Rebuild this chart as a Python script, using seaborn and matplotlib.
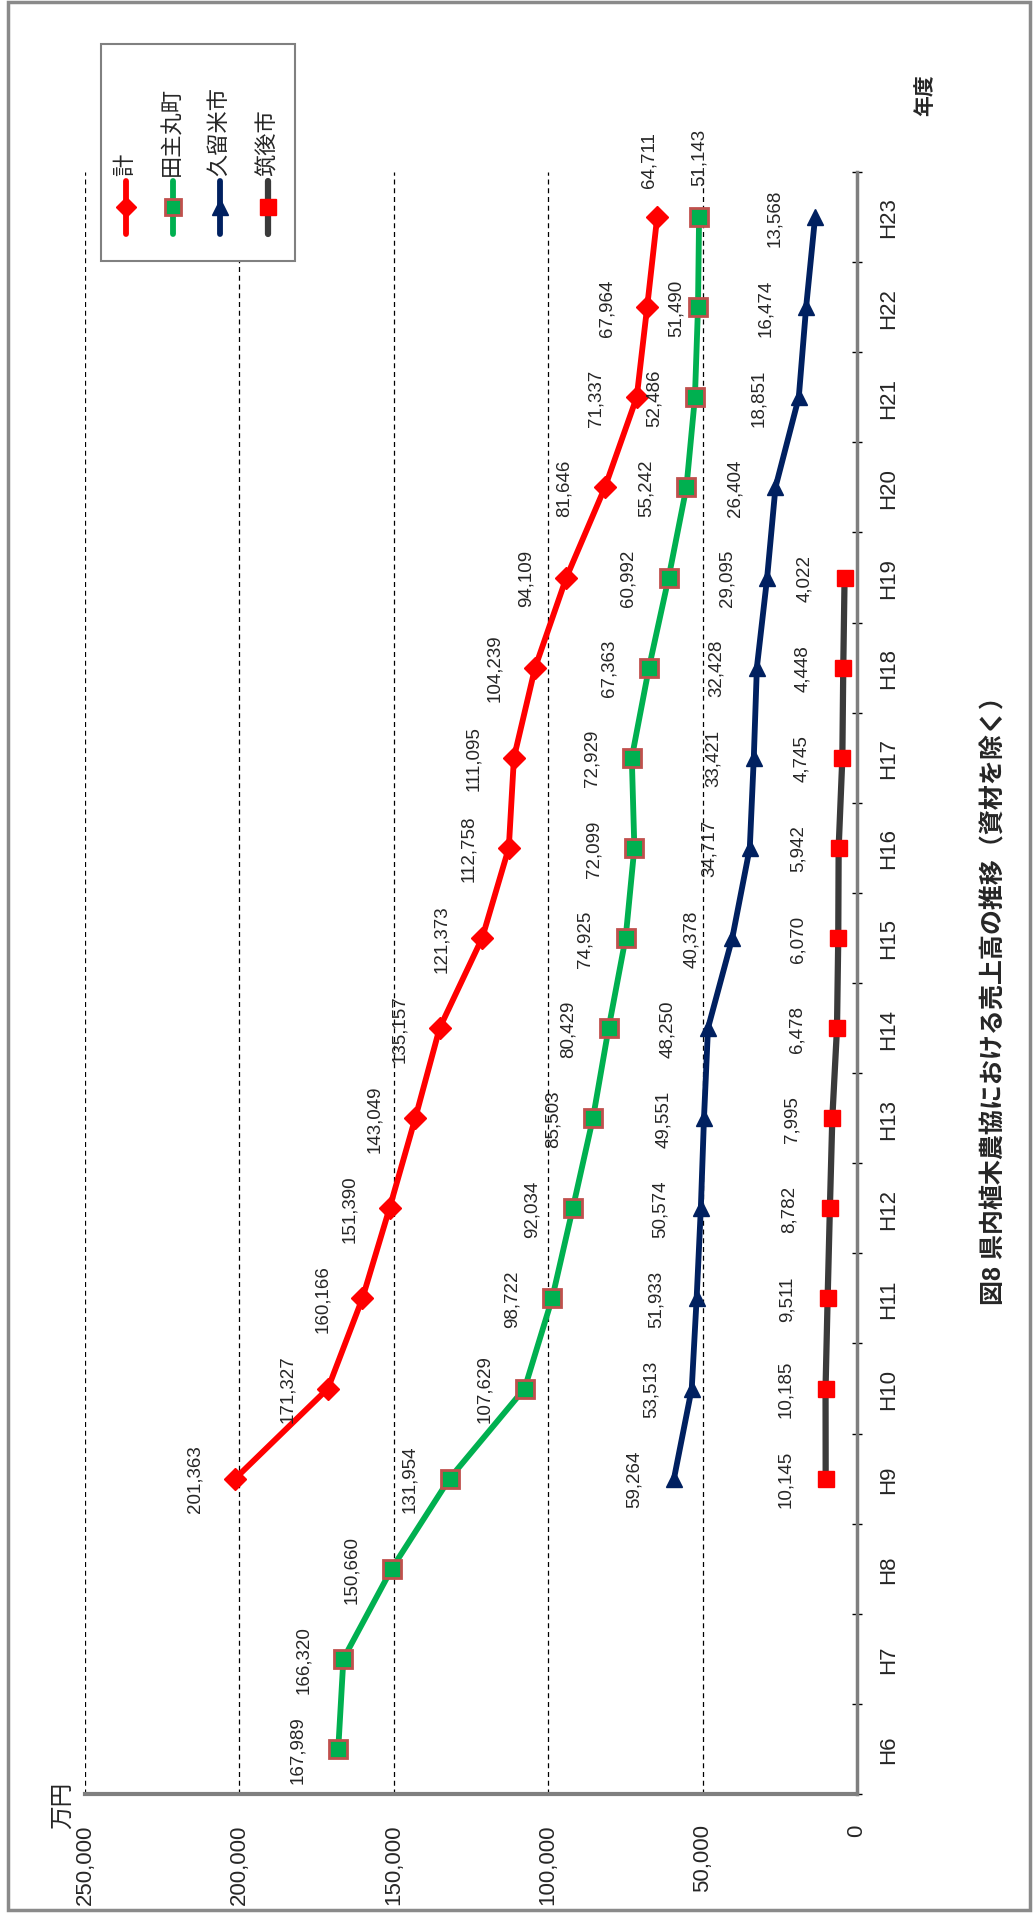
import matplotlib
matplotlib.use("Agg")
import matplotlib.pyplot as plt
import matplotlib.patches as mpatches
from matplotlib.lines import Line2D
import numpy as np
import pandas as pd
import seaborn as sns

nan = np.nan

years = ["H6", "H7", "H8", "H9", "H10", "H11", "H12", "H13", "H14",
         "H15", "H16", "H17", "H18", "H19", "H20", "H21", "H22", "H23"]

total = [nan, nan, nan, 201363, 171327, 160166, 151390, 143049, 135157,
         121373, 112758, 111095, 104239, 94109, 81646, 71337, 67964, 64711]
tanushimaru = [167989, 166320, 150660, 131954, 107629, 98722, 92034, 85503, 80429,
               74925, 72099, 72929, 67363, 60992, 55242, 52486, 51490, 51143]
kurume = [nan, nan, nan, 59264, 53513, 51933, 50574, 49551, 48250,
          40378, 34717, 33421, 32428, 29095, 26404, 18851, 16474, 13568]
chikugo = [nan, nan, nan, 10145, 10185, 9511, 8782, 7995, 6478,
           6070, 5942, 4745, 4448, 4022, nan, nan, nan, nan]

series_names = ["計", "田主丸町", "久留米市", "筑後市"]
value_ticks = [0, 50000, 100000, 150000, 200000, 250000]

# long-form table, one row per (series, year)
rows = []
for name, vals in zip(series_names, [total, tanushimaru, kurume, chikugo]):
    for i, v in enumerate(vals):
        rows.append({"series": name, "year": years[i], "pos": i, "value": v})
df = pd.DataFrame(rows).dropna()

styles = {
    "計": dict(color="#ff0000", marker="D", markersize=11, markerfacecolor="#ff0000",
              markeredgecolor="#ff0000", markeredgewidth=1, linewidth=4.2),
    "田主丸町": dict(color="#00b050", marker="s", markersize=13, markerfacecolor="#00b050",
                 markeredgecolor="#c0504d", markeredgewidth=2, linewidth=4.2),
    "久留米市": dict(color="#002060", marker="^", markersize=12, markerfacecolor="#002060",
                 markeredgecolor="#002060", markeredgewidth=1, linewidth=4.2),
    "筑後市": dict(color="#3a3a3a", marker="s", markersize=12, markerfacecolor="#ff0000",
                markeredgecolor="#ff0000", markeredgewidth=1, linewidth=4.5),
}

# hand-moved data labels (offset in points)
label_nudge = {
    ("計", "H23"): (-6, 42),
    ("田主丸町", "H23"): (0, 44),
    ("田主丸町", "H22"): (-16, 0),
}

sns.set_style("white")
plt.rcParams["font.family"] = ["Liberation Sans", "Noto Sans CJK JP", "DejaVu Sans"]

W, H = 1034, 1915
fig = plt.figure(figsize=(W / 100, H / 100), dpi=100)
ax = fig.add_axes([85 / W, 120 / H, 772 / W, 1622 / H])

for name in series_names:
    sub = df[df["series"] == name]
    sns.lineplot(data=sub, x="value", y="pos", orient="y", sort=False,
                 estimator=None, legend=False, ax=ax, **styles[name])
    for _, r in sub.iterrows():
        off = label_nudge.get((name, r["year"]), (-29, 0))
        ax.annotate(f"{int(r['value']):,}", (r["value"], r["pos"]),
                    xytext=off, textcoords="offset points",
                    rotation=90, ha="center", va="center", fontsize=13.5)

ax.set_xlim(250000, 0)
ax.set_ylim(-0.5, len(years) - 0.5)
ax.set_xlabel("")
ax.set_ylabel("")

ax.set_xticks(value_ticks)
ax.set_xticklabels([f"{t:,}" for t in value_ticks], rotation=90, fontsize=16)
ax.tick_params(axis="x", direction="inout", length=8, width=1.2, color="black", pad=17)

ax.yaxis.tick_right()
ax.set_yticks(range(len(years)))
ax.set_yticklabels(years, rotation=90, va="center", fontsize=16)
ax.set_yticks(np.arange(-0.5, len(years), 1), minor=True)
ax.tick_params(axis="y", which="major", length=0, pad=15)
ax.tick_params(axis="y", which="minor", direction="inout", length=7, width=1,
               color="black", right=True, left=False)

ax.set_axisbelow(True)
ax.xaxis.grid(True, linestyle=(0, (4, 3)), color="black", linewidth=0.9)
ax.yaxis.grid(False)
for side in ["top", "left"]:
    ax.spines[side].set_visible(False)
ax.spines["bottom"].set_color("#7f7f7f")
ax.spines["bottom"].set_linewidth(3)
ax.spines["right"].set_color("#7f7f7f")
ax.spines["right"].set_linewidth(2.5)

# unit and axis titles
fig.text(63 / W, 1 - 1805 / H, "万円", rotation=90, ha="center", va="center", fontsize=17)
fig.text(925 / W, 1 - 95 / H, "年度", rotation=90, ha="center", va="center",
         fontsize=15, fontweight="bold")
fig.text(994 / W, 1 - 995 / H, "図8 県内植木農協における売上高の推移（資材を除く）",
         rotation=90, ha="center", va="center", fontsize=18, fontweight="bold")

# legend drawn sideways to match the rotated layout
fig.add_artist(mpatches.Rectangle((101 / W, 1 - 262 / H), 194 / W, 217 / H,
                                  transform=fig.transFigure, facecolor="white",
                                  edgecolor="#808080", linewidth=1.5, zorder=5))
for name, xpix in zip(series_names, [126, 173, 220, 268]):
    st = styles[name]
    fig.add_artist(Line2D([xpix / W, xpix / W], [1 - 235 / H, 1 - 182 / H],
                          transform=fig.transFigure, color=st["color"],
                          linewidth=st["linewidth"], zorder=6))
    fig.add_artist(Line2D([xpix / W], [1 - 208 / H], transform=fig.transFigure,
                          linestyle="none", marker=st["marker"],
                          markersize=st["markersize"] - 1,
                          markerfacecolor=st["markerfacecolor"],
                          markeredgecolor=st["markeredgecolor"],
                          markeredgewidth=st["markeredgewidth"], zorder=7))
    fig.text(xpix / W, 1 - 176 / H, name, rotation=90, ha="center", va="bottom",
             fontsize=16, zorder=7)

# outer frame
fig.add_artist(mpatches.Rectangle((8 / W, 4 / H), 1022 / W, 1908 / H,
                                  transform=fig.transFigure, fill=False,
                                  edgecolor="#8a8a8a", linewidth=2.5))

fig.savefig("out.png", dpi=100)
plt.close(fig)
